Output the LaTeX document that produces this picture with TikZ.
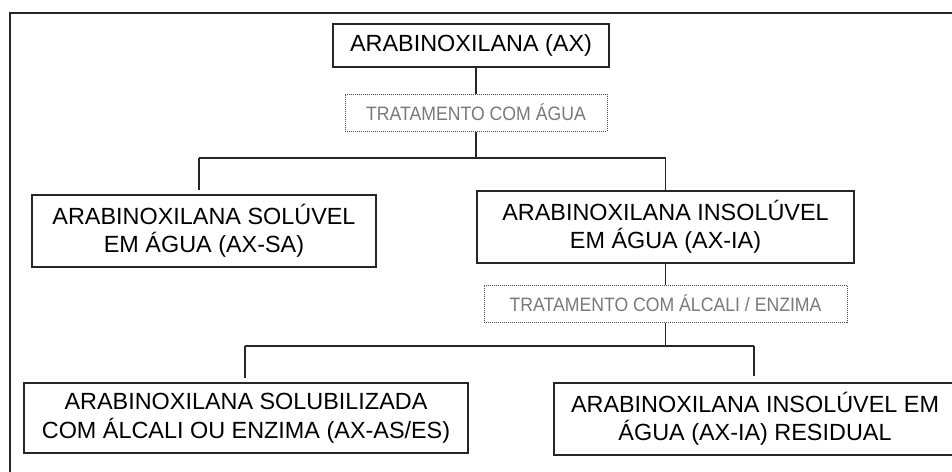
\documentclass[tikz,border=0pt]{standalone}
\usepackage{fontspec}
\setmainfont{Liberation Sans}
\newfontfamily\condf[FakeStretch=0.91]{Liberation Sans}
\definecolor{linec}{HTML}{262626}
\definecolor{txtc}{HTML}{000000}
\definecolor{graytxt}{HTML}{7A7A7A}
\definecolor{dotc}{HTML}{4A4A4A}
\begin{document}
\begin{tikzpicture}[x=1pt,y=-1pt,
  box/.style={draw=linec,line width=1.5pt,inner sep=0pt,align=center,text=txtc,
    font=\fontsize{23.4}{28.5}\selectfont},
  treat/.style={draw=dotc,line width=1pt,dash pattern=on 1pt off 1pt,inner sep=0pt,
    align=center,text=graytxt,font=\condf\fontsize{19.4}{23}\selectfont},
  conn/.style={draw=linec,line width=1.5pt}]
\useasboundingbox (0,0) rectangle (952,471);
\clip (0,0) rectangle (952,471);
\fill[white] (0,0) rectangle (952,471);
% frame
\draw[conn] (10,490) -- (10,13) -- (970,13);
% nodes
\node[box,minimum width=276pt,minimum height=43pt] (ax) at (471,45.5) {ARABINOXILANA (AX)};
\node[treat,minimum width=262pt,minimum height=37pt] (t1) at (476,112.5) {TRATAMENTO COM ÁGUA};
\node[box,minimum width=344pt,minimum height=72pt] (sa) at (204,231) {ARABINOXILANA SOLÚVEL\\EM ÁGUA (AX-SA)};
\node[box,minimum width=377pt,minimum height=72pt] (ia) at (665.5,227) {ARABINOXILANA INSOLÚVEL\\EM ÁGUA (AX-IA)};
\node[treat,minimum width=363pt,minimum height=37pt] (t2) at (665.5,303.5) {TRATAMENTO COM ÁLCALI / ENZIMA};
\node[box,minimum width=444pt,minimum height=70pt] (es) at (246,418) {ARABINOXILANA SOLUBILIZADA\\COM ÁLCALI OU ENZIMA (AX-AS/ES)};
\node[box,minimum width=402pt,minimum height=72pt] (res) at (755,419) {ARABINOXILANA INSOLÚVEL EM\\ÁGUA (AX-IA) RESIDUAL};
% bus coordinates
\coordinate (b1l) at (199,158);
\coordinate (b1r) at (665.5,158);
\coordinate (b2l) at (245,346);
\coordinate (b2r) at (754,346);
% connectors
\draw[conn] (ax.south -| t1.north) -- (t1.north);
\draw[conn] (t1.south) -- (t1.south |- b1l);
\draw[conn] (b1l) -- (b1r);
\draw[conn] (b1l) -- ([yshift=4pt]b1l |- sa.north);
\draw[conn] (b1r) -- (b1r |- ia.north);
\draw[conn] (ia.south) -- (t2.north);
\draw[conn] (t2.south) -- (t2.south |- b2l);
\draw[conn] (b2l) -- (b2r);
\draw[conn] (b2l) -- ([yshift=4pt]b2l |- es.north);
\draw[conn] (b2r) -- ([yshift=6pt]b2r |- res.north);
\end{tikzpicture}
\end{document}
